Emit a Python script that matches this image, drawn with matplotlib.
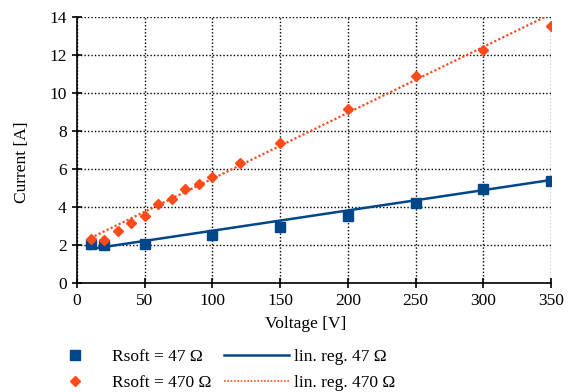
import matplotlib.pyplot as plt
from matplotlib.lines import Line2D

plt.rcParams['font.family'] = ['Liberation Serif', 'DejaVu Serif']

# measured points
volt_47 = [10, 20, 50, 100, 150, 200, 250, 300, 350]
curr_47 = [2.03, 2.00, 2.05, 2.55, 2.95, 3.53, 4.23, 4.95, 5.39]

volt_470 = [10, 20, 30, 40, 50, 60, 70, 80, 90, 100, 120, 150, 200, 250, 300, 350]
curr_470 = [2.32, 2.27, 2.76, 3.16, 3.55, 4.14, 4.41, 4.93, 5.20, 5.60, 6.30, 7.36,
            9.14, 10.88, 12.25, 13.53]

# regression lines (end points as drawn)
reg_x = [10, 350]
reg_47 = [1.79, 5.42]
reg_470 = [2.37, 14.15]

blue = '#00468b'
red = '#ff4a1a'

fig = plt.figure(figsize=(5.71, 3.92), dpi=100)
ax = fig.add_axes([0.135, 0.278, 0.830, 0.679])

ax.plot(reg_x, reg_47, color=blue, lw=1.8, zorder=3)
ax.plot(reg_x, reg_470, color=red, lw=1.6, linestyle=(0, (1, 1)), zorder=3)
ax.plot(volt_47, curr_47, 's', color=blue, ms=6.5, zorder=4)
ax.plot(volt_470, curr_470, 'D', color=red, ms=5.5, zorder=4)

ax.set_xlim(0, 350)
ax.set_ylim(0, 14)
ax.set_xticks(range(0, 351, 50))
ax.set_yticks(range(0, 15, 2))
ax.grid(True, color='black', linestyle=(0, (1, 1.5)), lw=1.0)
ax.set_axisbelow(True)
for s in ['top', 'right']:
    ax.spines[s].set_visible(False)
for s in ['left', 'bottom']:
    ax.spines[s].set_linewidth(1.2)
ax.tick_params(direction='inout', length=7, width=1.2, labelsize=12.5, pad=4)
ax.set_xlabel('Voltage [V]', fontsize=12.5)
ax.set_ylabel('Current [A]', fontsize=12.5)
ax.xaxis.set_label_coords(0.483, -0.125)
ax.yaxis.set_label_coords(-0.100, 0.455)

handles = [
    Line2D([], [], marker='s', color=blue, ls='none', ms=6.5),
    Line2D([], [], marker='D', color=red, ls='none', ms=5.5),
    Line2D([], [], color=blue, lw=1.8),
    Line2D([], [], color=red, lw=1.2, linestyle=(0, (1, 1))),
]
labels = ['Rsoft = 47 Ω', 'Rsoft = 470 Ω', 'lin. reg. 47 Ω', 'lin. reg. 470 Ω']
fig.legend(handles, labels, ncol=2, loc='upper left',
           bbox_to_anchor=(42 / 571, 1 - 349 / 392), frameon=False,
           fontsize=12.5, handlelength=3.75, handletextpad=0.3,
           columnspacing=0.7, labelspacing=0.58, borderpad=0, borderaxespad=0)

fig.savefig('out.png', dpi=100)
